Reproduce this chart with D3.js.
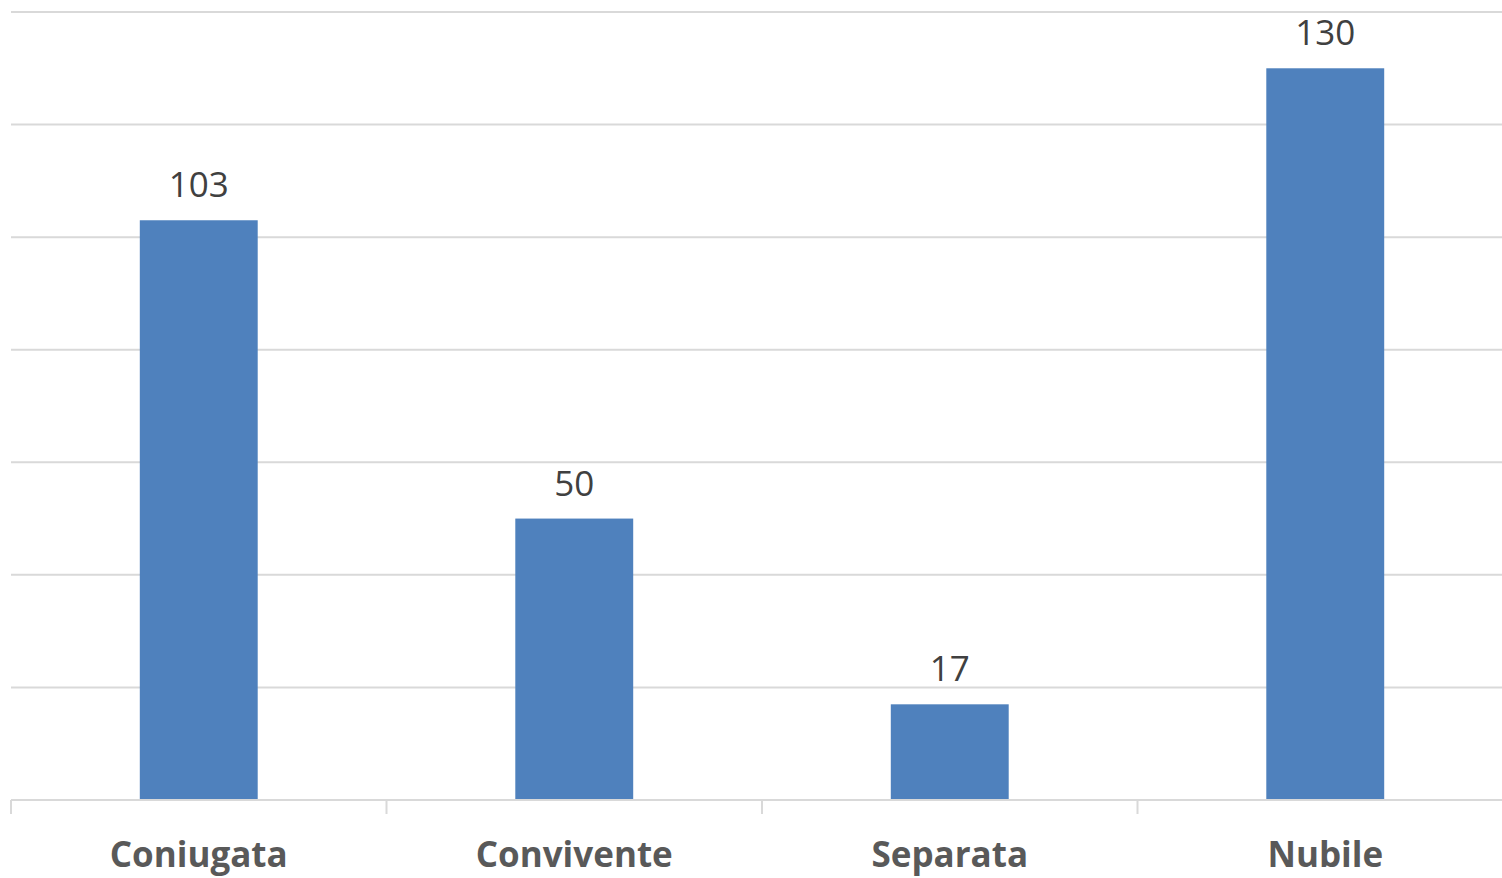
<!DOCTYPE html>
<html>
<head>
<meta charset="utf-8">
<script src="https://cdn.jsdelivr.net/npm/d3@7"></script>
<style>
  html, body { margin: 0; padding: 0; background: #fff; }
  svg { display: block; }
</style>
</head>
<body>
<svg id="chart" width="1502" height="878"></svg>
<script>
const categories = ["Coniugata", "Convivente", "Separata", "Nubile"];
const values = [103, 50, 17, 130];
const yTicks = [0, 20, 40, 60, 80, 100, 120, 140];

const svg = d3.select("#chart");
const plotLeft = 11, plotRight = 1513, plotTop = 12, plotBottom = 800;

const x = d3.scaleBand().domain(categories).range([plotLeft, plotRight]).paddingInner(0.686).paddingOuter(0.343);
const xOuter = d3.scaleBand().domain(categories).range([plotLeft, plotRight]).padding(0);
const y = d3.scaleLinear().domain([0, 140]).range([plotBottom, plotTop]);

// gridlines
svg.append("g")
  .selectAll("line")
  .data(yTicks.filter(d => d > 0))
  .join("line")
  .attr("x1", plotLeft).attr("x2", 1502)
  .attr("y1", d => y(d)).attr("y2", d => y(d))
  .attr("stroke", "#d9d9d9").attr("stroke-width", 2);

// bars
svg.append("g")
  .selectAll("rect")
  .data(categories)
  .join("rect")
  .attr("x", d => x(d))
  .attr("width", x.bandwidth())
  .attr("y", (d, i) => y(values[i]))
  .attr("height", (d, i) => y(0) - y(values[i]))
  .attr("fill", "#4f81bd");

// baseline and ticks
svg.append("line")
  .attr("x1", plotLeft).attr("x2", 1502)
  .attr("y1", y(0)).attr("y2", y(0))
  .attr("stroke", "#d9d9d9").attr("stroke-width", 2);

const tickXs = categories.map(c => xOuter(c)).concat([plotRight]);
svg.append("g")
  .selectAll("line")
  .data(tickXs)
  .join("line")
  .attr("x1", d => d).attr("x2", d => d)
  .attr("y1", y(0)).attr("y2", y(0) + 14)
  .attr("stroke", "#d9d9d9").attr("stroke-width", 2);

// value labels
svg.append("g")
  .selectAll("text")
  .data(categories)
  .join("text")
  .attr("x", d => x(d) + x.bandwidth() / 2)
  .attr("y", (d, i) => y(values[i]) - 23)
  .attr("text-anchor", "middle")
  .attr("font-family", "'Open Sans', sans-serif")
  .attr("font-size", 35)
  .attr("fill", "#404040")
  .text((d, i) => values[i]);

// category labels
svg.append("g")
  .selectAll("text")
  .data(categories)
  .join("text")
  .attr("x", d => x(d) + x.bandwidth() / 2)
  .attr("y", 867)
  .attr("text-anchor", "middle")
  .attr("font-family", "'Open Sans', sans-serif")
  .attr("font-weight", "bold")
  .attr("font-size", 35)
  .attr("fill", "#595959")
  .text(d => d);
</script>
</body>
</html>
